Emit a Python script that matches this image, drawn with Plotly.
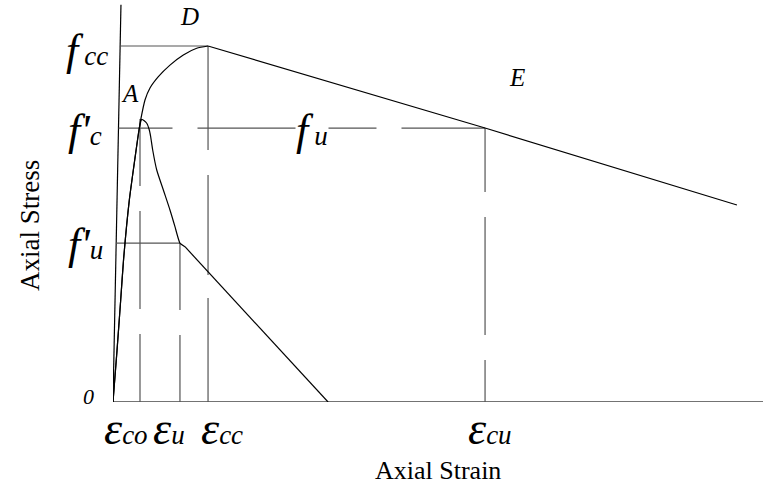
import plotly.graph_objects as go

# Stress-strain model (strain in per-mille, stress in MPa)
eps_co, eps_u, eps_cc, eps_cu = 2.0, 4.96, 7.04, 27.56
f_c, f_u_res, f_cc = 30.0, 17.41, 38.99

# Confined concrete: ascending branch up to peak D, then linear softening through E
conf_up_eps = [0.0, 0.30, 0.57, 0.78, 1.21, 1.61, 1.95, 2.05, 2.37, 2.74, 3.36, 4.22, 5.21, 6.20, 7.04]
conf_up_sig = [0.0, 5.70, 11.17, 15.55, 22.12, 26.51, 30.01, 30.89, 33.08, 34.39, 35.63, 36.90, 38.01, 38.74, 38.99]
conf_down_eps = [7.04, 27.56, 46.22]
conf_down_sig = [38.99, 30.01, 21.58]

# Unconfined concrete: peak near A, descending to the residual point, then to zero stress
unc_up_eps = [0.0, 0.30, 0.57, 0.78, 1.21, 1.61, 1.95, 2.13, 2.50, 2.69, 2.79, 2.94, 3.24, 3.73, 4.22, 4.59, 4.76, 4.96, 5.33]
unc_up_sig = [0.0, 5.70, 11.17, 15.55, 22.12, 26.51, 30.01, 30.96, 30.53, 29.79, 29.06, 27.60, 25.41, 23.22, 21.03, 19.20, 18.29, 17.41, 17.01]
unc_down_eps = [5.33, 15.93]
unc_down_sig = [17.01, 0.0]

# Initial stiffness line
init_eps = [0.0, 0.59]
init_sig = [0.0, 43.5]

X_MAX, Y_MAX = 48.15, 44.03
INK = "#000000"
GUIDE = "#555555"
SERIF = "Liberation Serif, Times New Roman, serif"

fig = go.Figure()

def line(xs, ys, color=INK, width=1.2, dash="solid", shape="linear"):
    fig.add_trace(go.Scatter(x=xs, y=ys, mode="lines", hoverinfo="skip",
                             line=dict(color=color, width=width, dash=dash,
                                       shape=shape, smoothing=0.6)))

# strain axis
line([0, X_MAX], [0, 0], color="#444444", width=1.5)
line(init_eps, init_sig)

# guide lines
x_at = lambda s: init_eps[1] * s / init_sig[1]
line([x_at(f_cc), eps_cc], [f_cc, f_cc], color=GUIDE, width=1.2)
line([x_at(f_u_res), eps_u], [f_u_res, f_u_res], color=GUIDE, width=1.2)
line([x_at(f_c), eps_cu], [f_c, f_c], color=GUIDE, width=1.2, dash="54px,25px,100px,25px")
line([eps_co, eps_co], [31.0, 0], color=GUIDE, width=1.2, dash="67px,25px,98px,25px,200px")
line([eps_u, eps_u], [f_u_res, 0], color=GUIDE, width=1.2, dash="67px,25px,200px")
line([eps_cc, eps_cc], [f_cc, 0], color=GUIDE, width=1.2, dash="104px,25px,100px,23px,200px")
line([eps_cu, eps_cu], [f_c, 0], color=GUIDE, width=1.2, dash="64px,25px,118px,25px,200px")

line(unc_up_eps, unc_up_sig, shape="spline")
line(unc_down_eps, unc_down_sig)
line(conf_up_eps, conf_up_sig, shape="spline")
line(conf_down_eps, conf_down_sig)


def label(x, y, text, size=24, bg=None, angle=0):
    # positions given in data units, placed in paper space so they may sit outside the axes
    fig.add_annotation(x=x / X_MAX, y=y / Y_MAX, xref="paper", yref="paper",
                       xanchor="center", yanchor="middle",
                       text=text, showarrow=False,
                       font=dict(family=SERIF, size=size, color="#000"),
                       bgcolor=bg, textangle=angle, borderpad=0)

big = "<span style='font-size:44px'><i>{}</i></span>"
sub = "<span style='font-size:27px'><i>{}</i></span>"
eps = "<span style='font-size:46px'><i>\u03b5</i></span>"

label(5.70, 42.17, "<i>D</i>", 25)
label(1.26, 33.84, "<i>A</i>", 25)
label(29.93, 35.49, "<i>E</i>", 25)
label(-1.93, 38.55, big.format("f") + " " + sub.format("cc"))
label(-2.07, 29.79, big.format("f'") + sub.format("c"))
label(-2.07, 17.20, big.format("f'") + sub.format("u"))
label(14.74, 29.79, big.format("f") + " " + sub.format("u"), bg="white")
label(-1.85, 0.55, "<i>0</i>", 22)
label(0.96, -2.85, eps + sub.format("co"))
label(4.15, -2.85, eps + sub.format("u"))
label(8.07, -2.85, eps + sub.format("cc"))
label(27.93, -2.85, eps + sub.format("cu"))
label(24.07, -7.45, "Axial Strain", 26)
label(-6.15, 19.39, "Axial Stress", 27, angle=-90)

fig.update_layout(
    width=763, height=493,
    margin=dict(l=113, r=0, t=0, b=91),
    paper_bgcolor="white", plot_bgcolor="white",
    showlegend=False,
    xaxis=dict(range=[0, X_MAX], visible=False, fixedrange=True),
    yaxis=dict(range=[0, Y_MAX], visible=False, fixedrange=True),
)

fig.write_html("out.html")
